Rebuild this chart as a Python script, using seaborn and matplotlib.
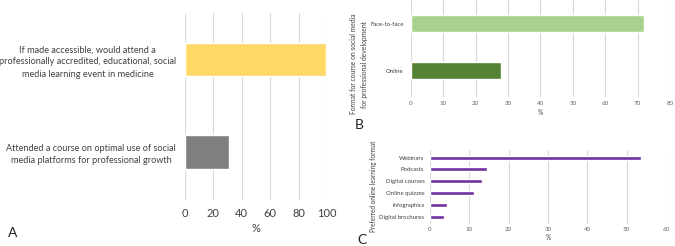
import matplotlib
matplotlib.use("Agg")
import matplotlib.pyplot as plt
import seaborn as sns
import pandas as pd

# panel A
a_labels = ["If made accessible, would attend a\nprofessionally accredited, educational, social\nmedia learning event in medicine",
            "Attended a course on optimal use of social\nmedia platforms for professional growth"]
a_values = [99, 31]
a_colors = ["#FFD966", "#7F7F7F"]

# panel B
b_labels = ["Face-to-face", "Online"]
b_values = [72, 28]
b_colors = ["#A9D18E", "#548235"]

# panel C
c_labels = ["Webinars", "Podcasts", "Digital courses", "Online quizzes",
            "Infographics", "Digital brochures"]
c_values = [53.6, 14.6, 13.1, 11.1, 4.2, 3.6]

sns.set_style("white")
plt.rcParams['font.family'] = ['Lato', 'DejaVu Sans']

W, H = 675, 246
fig = plt.figure(figsize=(W / 100, H / 100), dpi=100)


def px_axes(x0, y0, x1, y1):
    return fig.add_axes([x0 / W, 1 - y1 / H, (x1 - x0) / W, (y1 - y0) / H])


def style(ax, ticks, fs, tickcol):
    ax.set_xticks(ticks)
    ax.grid(axis="x", color="#D9D9D9", linewidth=0.8)
    ax.set_axisbelow(True)
    for s in ax.spines.values():
        s.set_visible(False)
    ax.tick_params(axis="both", length=0, labelsize=fs, labelcolor=tickcol)


# A
ax = px_axes(185, 13, 327, 200)
df = pd.DataFrame({"label": a_labels, "value": a_values})
sns.barplot(data=df, x="value", y="label", hue="label", palette=a_colors,
            legend=False, width=0.36, saturation=1, ax=ax)
ax.set_xlim(0, 100)
ax.set_ylim(1.52, -0.5)
style(ax, range(0, 101, 20), 8, "#404040")
ax.tick_params(axis="x", pad=6)
ax.tick_params(axis="y", pad=6.5, labelsize=6.6)
ax.set_xlabel("%", fontsize=8, color="#404040", labelpad=3)
ax.set_ylabel("")
for t in ax.get_yticklabels():
    t.set_multialignment("center")
    t.set_linespacing(1.45)
fig.text(8 / W, 1 - 233 / H, "A", fontsize=10, va="center", color="#222222")

# B
ax = px_axes(410.7, 0, 670, 97)
df = pd.DataFrame({"label": b_labels, "value": b_values})
sns.barplot(data=df, x="value", y="label", hue="label", palette=b_colors,
            legend=False, width=0.36, saturation=1, ax=ax)
ax.set_xlim(0, 80)
ax.set_ylim(1.55, -0.5)
style(ax, range(0, 81, 10), 4.5, "#666666")
ax.tick_params(axis="x", pad=3)
ax.tick_params(axis="y", pad=5, labelsize=4.3, labelcolor="#404040")
ax.set_xlabel("%", fontsize=4.8, color="#404040", labelpad=2)
ax.set_ylabel("Format for course on social media\nfor professional development",
              fontsize=4.9, color="#404040", linespacing=1.7)
ax.yaxis.set_label_coords(-0.163, 0.34)
fig.text(359 / W, 1 - 125 / H, "B", fontsize=10, va="center", ha="center", color="#222222")

# C
ax = px_axes(430, 150, 666, 224)
df = pd.DataFrame({"label": c_labels, "value": c_values})
sns.barplot(data=df, x="value", y="label", color="#7030A0",
            width=0.34, saturation=1, ax=ax)
ax.set_xlim(0, 60)
ax.set_ylim(5.62, -0.65)
style(ax, range(0, 61, 10), 4.5, "#666666")
ax.tick_params(axis="x", pad=2)
ax.tick_params(axis="y", pad=4, labelsize=4.3, labelcolor="#404040")
ax.set_xlabel("%", fontsize=4.8, color="#404040", labelpad=1.5)
ax.set_ylabel("Preferred online learning format", fontsize=4.7, color="#404040")
ax.yaxis.set_label_coords(-0.225, 0.507)
fig.text(362 / W, 1 - 240 / H, "C", fontsize=10, va="center", ha="center", color="#222222")

fig.savefig("out.png", dpi=100)
